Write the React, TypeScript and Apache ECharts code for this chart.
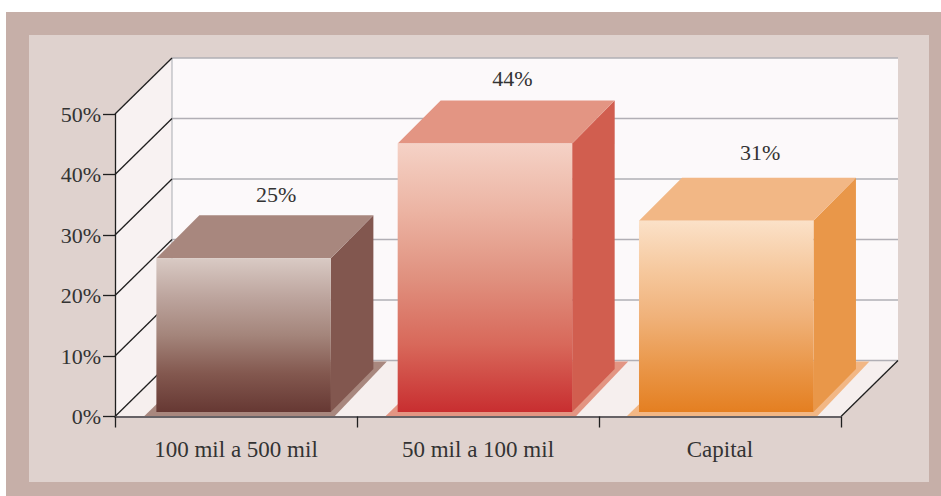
import React, { useEffect, useRef } from "react";
import * as echarts from "echarts";

const categories = ["100 mil a 500 mil", "50 mil a 100 mil", "Capital"];
const values = [25.4, 44.4, 31.6];
const valueLabels = ["25%", "44%", "31%"];
const yTicks = [0, 10, 20, 30, 40, 50];

const FONT = '"Liberation Serif", serif';
const TEXT = "#333333";
const faceStops = [
  ["#d9cac4", "#bda59e", "#a4857b", "#83584f", "#663833"],
  ["#f5d2c6", "#ecb4a3", "#e0917f", "#d8685a", "#c82e30"],
  ["#fbe1c8", "#f6c99f", "#f0b27a", "#ea984b", "#e47f21"],
];
const topColors = ["#a8877e", "#e39583", "#f2b785"];
const sideColors = ["#82574f", "#d15e4f", "#e99749"];
const labelNudgeX = [0, -5, 1.5];
const labelNudgeY = [-1, -2, -5];

const WALL_DEPTH_X = 57;
const WALL_DEPTH_Y = 56;
const BAR_DEPTH = 43;

const poly = (points: number[][], fill: any, z2 = 0) => ({
  type: "polygon",
  z2,
  shape: { points },
  style: { fill },
});
const seg = (a: number[], b: number[], stroke: string, lineWidth: number, z2 = 1) => ({
  type: "line",
  z2,
  shape: { x1: a[0], y1: a[1], x2: b[0], y2: b[1] },
  style: { stroke, lineWidth, fill: "none" },
});

function renderWall(params: any, api: any) {
  const tick = api.value(0);
  const p = api.coord([0, tick]);
  const band = api.size([1, 0])[0];
  const x0 = p[0] - band / 2;
  const x1 = x0 + band * categories.length;
  const y = p[1];
  const dx = WALL_DEPTH_X;
  const dy = WALL_DEPTH_Y;
  const children: any[] = [];
  if (params.dataIndex === 0) {
    const top = api.coord([0, yTicks[yTicks.length - 1]])[1];
    children.push(poly([[x0 + dx, top - dy], [x1 + dx, top - dy], [x1 + dx, y - dy], [x0 + dx, y - dy]], "#fcf9fa"));
    children.push(poly([[x0, top], [x0 + dx, top - dy], [x0 + dx, y - dy], [x0, y]], "#f8f2f2"));
    children.push(poly([[x0, y], [x0 + dx, y - dy], [x1 + dx, y - dy], [x1, y]], "#f6efee"));
    children.push(seg([x0 + dx, top - dy], [x0 + dx, y - dy], "#a9adb2", 1));
    children.push(seg([x1, y], [x1 + dx, y - dy], "#1f1f1f", 1.3, 2));
  }
  children.push(seg([x0 + dx, y - dy], [x1 + dx, y - dy], "#b1afb5", 1.6));
  children.push(seg([x0, y], [x0 + dx, y - dy], "#1f1f1f", 1.3, 2));
  return { type: "group", children };
}

function renderBar(params: any, api: any) {
  const i = params.dataIndex;
  const p = api.coord([api.value(0), api.value(1)]);
  const base = api.coord([api.value(0), 0]);
  const band = api.size([1, 0])[0];
  const w = band * 0.721;
  const left = p[0] - w / 2 + band * 0.0315 - i * 0.7;
  const right = left + w;
  const floorY = base[1];
  const bottom = floorY - 4.5;
  const top = p[1] - 4.5;
  const d = BAR_DEPTH;
  const stops = faceStops[i];
  const gradient = new echarts.graphic.LinearGradient(
    0, 0, 0, 1,
    stops.map((color, k) => ({ offset: k / (stops.length - 1), color }))
  );
  return {
    type: "group",
    children: [
      poly([[left - 12, floorY - 0.5], [right + 4, floorY - 0.5], [right + 56, floorY - 55], [left + 44, floorY - 55]], topColors[i], 0),
      poly([[right, top], [right + d - 0.5, top - d], [right + d - 0.5, bottom - d], [right, bottom]], sideColors[i], 1),
      poly([[left, top], [left + d, top - d], [right + d - 0.5, top - d], [right, top]], topColors[i], 1),
      poly([[left, top], [right, top], [right, bottom], [left, bottom]], gradient, 2),
      {
        type: "text",
        z2: 3,
        style: {
          text: valueLabels[i],
          x: (left + right) / 2 + 32.5 + labelNudgeX[i],
          y: top - d - 20 + labelNudgeY[i],
          align: "center",
          verticalAlign: "middle",
          font: `22px ${FONT}`,
          fill: TEXT,
        },
      },
    ],
  };
}

export default function App() {
  const ref = useRef<HTMLDivElement>(null);
  useEffect(() => {
    document.body.style.margin = "0";
    const chart = echarts.init(ref.current!, undefined, { renderer: "svg" });
    chart.setOption({
      animation: false,
      backgroundColor: "#ffffff",
      graphic: {
        elements: [
          { type: "rect", z: -2, shape: { x: 6, y: 12, width: 935, height: 484 }, style: { fill: "#c6afa8" } },
          { type: "rect", z: -1, shape: { x: 29, y: 35, width: 900, height: 447 }, style: { fill: "#dfd2ce" } },
        ],
      },
      grid: { left: 115, top: 114, width: 726, height: 302.5 },
      xAxis: {
        type: "category",
        data: categories,
        z: 5,
        axisLine: { lineStyle: { color: "#666266", width: 2 } },
        axisTick: { show: true, length: 11, alignWithLabel: false, lineStyle: { color: "#1f1f1f", width: 1.3 } },
        axisLabel: { fontFamily: FONT, fontSize: 23, color: TEXT, margin: 21 },
        splitLine: { show: false },
      },
      yAxis: {
        type: "value",
        min: 0,
        max: 50,
        interval: 10,
        z: 5,
        axisLine: { show: true, lineStyle: { color: "#1f1f1f", width: 1.3 } },
        axisTick: { show: true, length: 12, lineStyle: { color: "#1f1f1f", width: 1.3 } },
        axisLabel: { fontFamily: FONT, fontSize: 22, color: TEXT, margin: 14, formatter: "{value}%" },
        splitLine: { show: false },
      },
      series: [
        {
          type: "custom",
          z: 1,
          clip: false,
          silent: true,
          coordinateSystem: "cartesian2d",
          renderItem: renderWall,
          encode: { y: 0 },
          data: yTicks.map((t) => [t]),
        },
        {
          type: "custom",
          z: 2,
          clip: false,
          silent: true,
          coordinateSystem: "cartesian2d",
          renderItem: renderBar,
          encode: { x: 0, y: 1 },
          data: values.map((v, i) => [i, v]),
        },
      ],
    });
    return () => chart.dispose();
  }, []);
  return <div ref={ref} style={{ position: "absolute", left: 0, top: 0, width: 941, height: 496 }} />;
}
